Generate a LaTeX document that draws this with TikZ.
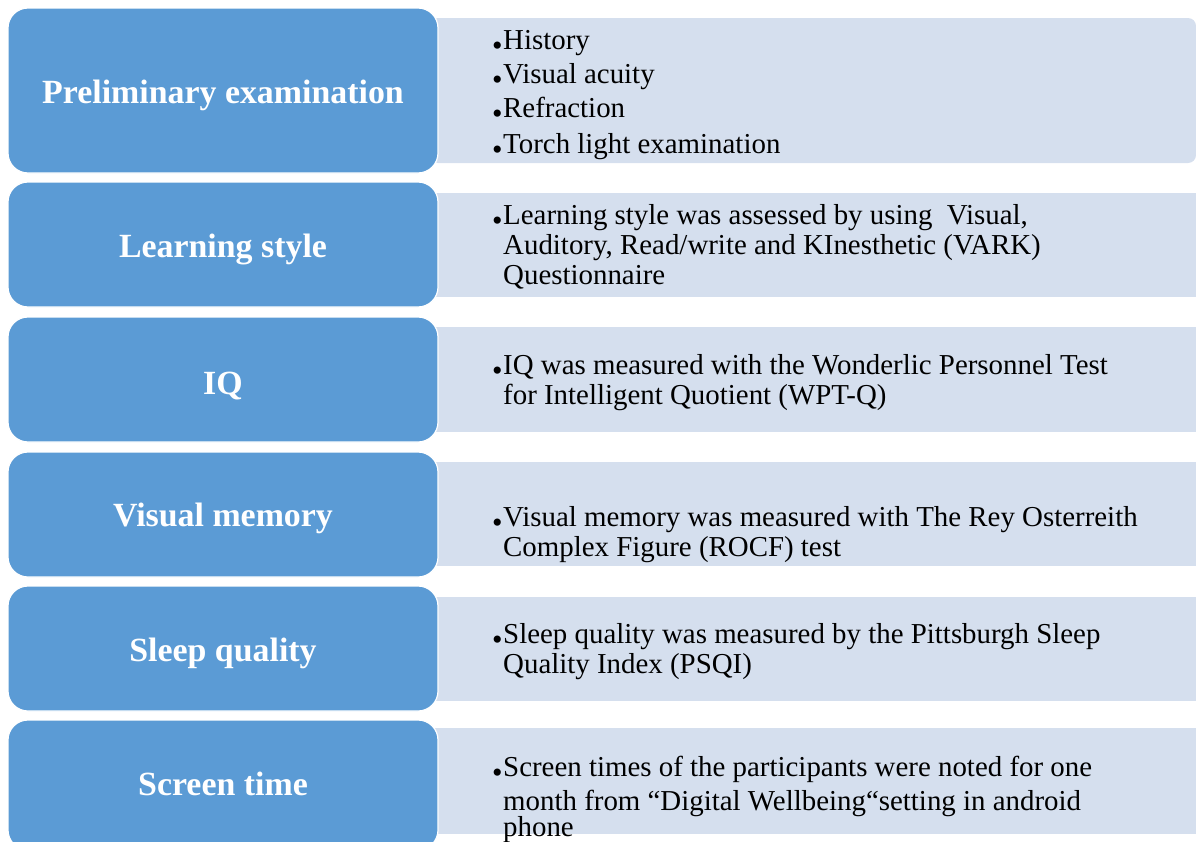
\documentclass[tikz,border=0pt]{standalone}
\usepackage{fontspec}
\setmainfont{Liberation Serif}
\definecolor{headblue}{RGB}{91,155,213}
\definecolor{detailbg}{RGB}{213,223,238}
\tikzset{
  headbox/.style={fill=headblue, draw=white, line width=1.2bp, rounded corners=20bp},
  detailbox/.style={fill=detailbg, draw=none},
  headtext/.style={anchor=base, text=white, inner sep=0pt,
    font=\fontsize{34}{40}\selectfont\bfseries},
  detailtext/.style={anchor=base west, inner sep=0pt,
    font=\fontsize{29}{30}\selectfont},
}
\newcommand\bul{\llap{\raisebox{-6bp}{\fontsize{30}{30}\selectfont •}\hspace{0.5bp}}}
\begin{document}
\begin{tikzpicture}[x=1bp,y=-1bp]
\useasboundingbox (0,0) rectangle (1196,842);
\clip (0,0) rectangle (1196,842);

% light panels on the right
\path[detailbox, rounded corners=8bp] (430,18) rectangle (1196,163);
\path[detailbox] (430,193) rectangle (1196,297);
\path[detailbox] (430,327) rectangle (1196,432);
\path[detailbox] (430,462) rectangle (1196,566);
\path[detailbox] (430,597) rectangle (1196,701);
\path[detailbox] (430,728) rectangle (1196,834);

% blue headings on the left
\path[headbox] (8,8) rectangle (438,173);
\path[headbox] (8,182) rectangle (438,307);
\path[headbox] (8,317) rectangle (438,442);
\path[headbox] (8,452) rectangle (438,577);
\path[headbox] (8,586) rectangle (438,711);
\path[headbox] (8,720) rectangle (438,850);

\node[headtext] (h1) at (223,103) {Preliminary examination};
\node[headtext] (h2) at (223,257) {Learning style};
\node[headtext] (h3) at (223,394) {IQ};
\node[headtext] (h4) at (223,526) {Visual memory};
\node[headtext] (h5) at (223,661) {Sleep quality};
\node[headtext] (h6) at (223,795) {Screen time};

% details
\node[detailtext] (d1a) at (503,49) {\bul History};
\node[detailtext] (d1b) at (503,83) {\bul Visual acuity};
\node[detailtext] (d1c) at (503,117) {\bul Refraction};
\node[detailtext] (d1d) at (503,153) {\bul Torch light examination};

\node[detailtext] (d2a) at (503,224) {\bul Learning style was assessed by using\ \ Visual,};
\node[detailtext] (d2b) at (503,254) {Auditory, Read/write and KInesthetic (VARK)};
\node[detailtext] (d2c) at (503,284) {Questionnaire};

\node[detailtext] (d3a) at (503,374) {\bul IQ was measured with the Wonderlic Personnel Test};
\node[detailtext] (d3b) at (503,404) {for Intelligent Quotient (WPT-Q)};

\node[detailtext] (d4a) at (503,526) {\bul Visual memory was measured with The Rey Osterreith};
\node[detailtext] (d4b) at (503,556) {Complex Figure (ROCF) test};

\node[detailtext] (d5a) at (503,643) {\bul Sleep quality was measured by the Pittsburgh Sleep};
\node[detailtext] (d5b) at (503,673) {Quality Index (PSQI)};

\node[detailtext] (d6a) at (503,776) {\bul Screen times of the participants were noted for one};
\node[detailtext] (d6b) at (503,810) {month from ``Digital Wellbeing``setting in android};
\node[detailtext] (d6c) at (503,836) {phone};
\end{tikzpicture}
\end{document}
